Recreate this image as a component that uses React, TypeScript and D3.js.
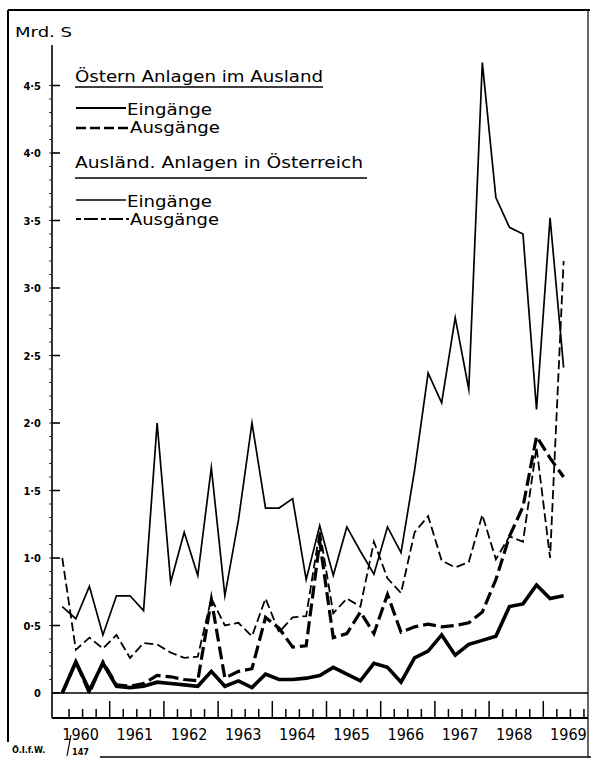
import React from 'react'
import * as d3 from 'd3'

// quarterly values 1960 Q1 .. 1969 Q2, in Mrd. S
const oestEingaenge = [
  0.0, 0.23, 0.02, 0.22, 0.05, 0.04, 0.05, 0.08, 0.07, 0.06, 0.05, 0.16, 0.05,
  0.09, 0.04, 0.14, 0.1, 0.1, 0.11, 0.13, 0.19, 0.14, 0.09, 0.22, 0.19, 0.08,
  0.26, 0.31, 0.43, 0.28, 0.36, 0.39, 0.42, 0.64, 0.66, 0.8, 0.7, 0.72,
]
const oestAusgaenge = [
  0.0, 0.23, 0.0, 0.23, 0.06, 0.05, 0.07, 0.13, 0.12, 0.1, 0.09, 0.69, 0.11,
  0.16, 0.18, 0.56, 0.48, 0.34, 0.35, 1.12, 0.41, 0.44, 0.6, 0.44, 0.73, 0.45,
  0.49, 0.51, 0.49, 0.5, 0.52, 0.6, 0.84, 1.16, 1.38, 1.9, 1.74, 1.6,
]
const auslEingaenge = [
  0.64, 0.55, 0.79, 0.43, 0.72, 0.72, 0.61, 2.0, 0.82, 1.19, 0.87, 1.67, 0.72,
  1.28, 2.0, 1.37, 1.37, 1.44, 0.84, 1.24, 0.87, 1.23, 1.05, 0.88, 1.23, 1.04,
  1.65, 2.37, 2.15, 2.78, 2.25, 4.67, 3.67, 3.45, 3.4, 2.1, 3.52, 2.41,
]
const auslAusgaenge = [
  1.0, 0.32, 0.41, 0.33, 0.43, 0.26, 0.37, 0.36, 0.3, 0.26, 0.27, 0.7, 0.5,
  0.52, 0.42, 0.7, 0.45, 0.56, 0.57, 1.2, 0.59, 0.7, 0.64, 1.12, 0.85, 0.74,
  1.19, 1.31, 0.98, 0.93, 0.97, 1.32, 0.99, 1.16, 1.12, 1.82, 1.0, 3.2,
]
const years = [1960, 1961, 1962, 1963, 1964, 1965, 1966, 1967, 1968, 1969]
const yTicks = [0, 0.5, 1, 1.5, 2, 2.5, 3, 3.5, 4, 4.5]
const yTickLabels = ['0', '0·5', '1·0', '1·5', '2·0', '2·5', '3·0', '3·5', '4·0', '4·5']

const W = 591
const H = 758
const font = '"DejaVu Sans Condensed", "DejaVu Sans", sans-serif'

export default function App() {
  const x = d3.scaleLinear().domain([1960, 1970]).range([55.5, 597.5])
  const y = d3.scaleLinear().domain([0, 4.5]).range([693, 85.5])
  const axisX = 52
  const rightX = 588
  const baseY = 718

  const t = (i: number) => 1960 + (i + 0.5) / 4
  const line = d3
    .line<number>()
    .x((d, i) => x(t(i)))
    .y((d) => y(d))

  const series = [
    { data: oestAusgaenge, w: 3.2, dash: '13,5' },
    { data: auslAusgaenge, w: 1.8, dash: '9,4' },
    { data: oestEingaenge, w: 3.6, dash: null },
    { data: auslEingaenge, w: 1.7, dash: null },
  ]

  const quarterTicks = d3.range(1, 40).map((q) => 1960 + q / 4)
  const minorY = d3.range(1, 46).map((v) => v / 10)

  return (
    <svg
      width={W}
      height={H}
      style={{ position: 'absolute', left: 0, top: 0, background: '#fff' }}
      fontFamily={font}
    >
      {/* frame */}
      <g stroke="#000" fill="none">
        <line x1={8} x2={590} y1={10} y2={10} strokeWidth={1.8} />
        <line x1={8} x2={8} y1={10} y2={742} strokeWidth={2} />
        <line x1={rightX} x2={rightX} y1={10} y2={757} strokeWidth={1.2} />
        <line x1={100} x2={591} y1={757} y2={757} strokeWidth={1.5} />
      </g>

      <text x={15} y={37} fontSize={14} textLength={57} lengthAdjust="spacingAndGlyphs">
        Mrd. S
      </text>

      {/* y axis */}
      <line x1={axisX} x2={axisX} y1={45} y2={baseY} stroke="#000" strokeWidth={1.6} />
      {minorY.map((v) => (
        <line key={v} x1={axisX - 3} x2={axisX} y1={y(v)} y2={y(v)} stroke="#000" strokeWidth={0.8} />
      ))}
      {yTicks.map((v, i) => (
        <g key={v}>
          <line x1={axisX} x2={axisX + 8} y1={y(v)} y2={y(v)} stroke="#000" strokeWidth={1.6} />
          <text x={41} y={y(v) + 4} textAnchor="end" fontSize={11} fontWeight="bold">
            {yTickLabels[i]}
          </text>
        </g>
      ))}

      {/* zero line and x axis */}
      <line x1={axisX} x2={rightX} y1={y(0)} y2={y(0)} stroke="#000" strokeWidth={1.6} />
      <line x1={axisX} x2={rightX} y1={baseY} y2={baseY} stroke="#000" strokeWidth={2} />
      {quarterTicks.map((q) => {
        const isYear = Math.abs(q - Math.round(q)) < 1e-6
        return (
          <line
            key={q}
            x1={x(q)}
            x2={x(q)}
            y1={baseY}
            y2={baseY - (isYear ? 17 : 9)}
            stroke="#000"
            strokeWidth={1.5}
          />
        )
      })}
      {years.map((yr) => (
        <text key={yr} x={x(yr + 0.5) - 2} y={740} textAnchor="middle" fontSize={16}>
          {yr}
        </text>
      ))}

      {/* series */}
      {series.map((s, i) => (
        <path
          key={i}
          d={line(s.data) || ''}
          fill="none"
          stroke="#000"
          strokeWidth={s.w}
          strokeDasharray={s.dash || undefined}
          strokeLinejoin="miter"
          strokeMiterlimit={10}
        />
      ))}

      {/* legend */}
      <g fontSize={16}>
        <text x={75} y={82} textLength={248} lengthAdjust="spacingAndGlyphs">
          Östern Anlagen im Ausland
        </text>
        <line x1={75} x2={323} y1={87} y2={87} stroke="#000" strokeWidth={1.6} />
        <line x1={76} x2={126} y1={108} y2={108} stroke="#000" strokeWidth={2.2} />
        <text x={127} y={115} textLength={85} lengthAdjust="spacingAndGlyphs">
          Eingänge
        </text>
        <line x1={76} x2={129} y1={128} y2={128} stroke="#000" strokeWidth={2.6} strokeDasharray="10,4" />
        <text x={130} y={133} textLength={90} lengthAdjust="spacingAndGlyphs">
          Ausgänge
        </text>

        <text x={75} y={168} textLength={288} lengthAdjust="spacingAndGlyphs">
          Ausländ. Anlagen in Österreich
        </text>
        <line x1={75} x2={367} y1={178} y2={178} stroke="#000" strokeWidth={1.6} />
        <line x1={76} x2={126} y1={200} y2={200} stroke="#000" strokeWidth={1.5} />
        <text x={127} y={207} textLength={85} lengthAdjust="spacingAndGlyphs">
          Eingänge
        </text>
        <line x1={76} x2={129} y1={219} y2={219} stroke="#000" strokeWidth={1.8} strokeDasharray="5,3,14,3" />
        <text x={130} y={225} textLength={89} lengthAdjust="spacingAndGlyphs">
          Ausgänge
        </text>
      </g>

      {/* source note */}
      <line x1={67} x2={71} y1={756} y2={735} stroke="#000" strokeWidth={1.2} />
      <text x={12} y={753} fontSize={9} fontWeight="bold">
        Ö.I.f.W.
      </text>
      <text x={72} y={755} fontSize={9} fontWeight="bold">
        147
      </text>
    </svg>
  )
}
